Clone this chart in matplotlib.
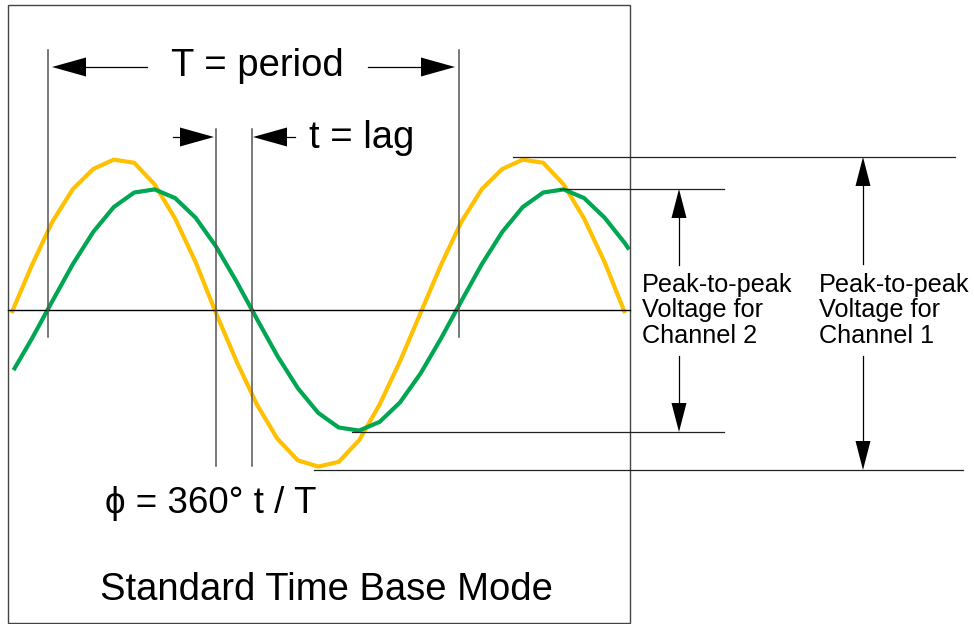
import matplotlib
matplotlib.use("Agg")
import matplotlib.pyplot as plt
from matplotlib.patches import Polygon, Rectangle

plt.rcParams['font.family'] = ['Liberation Sans', 'DejaVu Sans']

# ---- data ----
# time in ms, voltage in V
ch1_time = list(range(0, 31))
ch1_volts = [-0.10, 1.45, 2.85, 3.90, 4.55, 4.85, 4.75, 4.05, 2.95, 1.55,
             -0.10, -1.65, -3.05, -4.15, -4.85, -5.05, -4.90, -4.20, -3.05, -1.65,
             -0.10, 1.45, 2.85, 3.90, 4.55, 4.85, 4.75, 4.05, 2.95, 1.55, -0.10]
ch2_time = [0.1] + list(range(1, 31)) + [30.2]
ch2_volts = [-1.94, -0.92, 0.29, 1.48, 2.52, 3.32, 3.79, 3.89, 3.61, 2.98,
             2.05, 0.92, -0.29, -1.48, -2.52, -3.32, -3.79, -3.89, -3.61, -2.98,
             -2.05, -0.92, 0.29, 1.48, 2.52, 3.32, 3.79, 3.89, 3.61, 2.98,
             2.15, 1.95]

labels = {
    'period': 'T = period',
    'lag': 't = lag',
    'phase': '\u03d5 = 360\u00b0 t / T',
    'mode': 'Standard Time Base Mode',
    'ch2': 'Peak-to-peak\nVoltage for\nChannel 2',
    'ch1': 'Peak-to-peak\nVoltage for\nChannel 1',
}

YELLOW = '#FFC000'
GREEN = '#00A651'
LINE = '#222222'
GRAY = '#555555'

W, H = 974, 624
fig = plt.figure(figsize=(W / 100, H / 100), dpi=100)

# Annotation layer in pixel-like coordinates
ax = fig.add_axes([0, 0, 1, 1])
ax.set_xlim(0, W)
ax.set_ylim(H, 0)
ax.axis('off')

# Wave layer in time / voltage units
px_per_ms = 20.45
t0_px = 11.5
px_per_volt = 31.0
zero_px = 310
wax = fig.add_axes([0, 0, 1, 1])
wax.set_xlim((0 - t0_px) / px_per_ms, (W - t0_px) / px_per_ms)
wax.set_ylim((zero_px - H) / px_per_volt, zero_px / px_per_volt)
wax.axis('off')
wax.patch.set_alpha(0)

wax.plot(ch1_time, ch1_volts, color=YELLOW, lw=3.0, solid_joinstyle='round',
         solid_capstyle='butt', zorder=2)
wax.plot(ch2_time, ch2_volts, color=GREEN, lw=3.0, solid_joinstyle='round',
         solid_capstyle='butt', zorder=3)

# bring annotation layer on top
ax.set_zorder(wax.get_zorder() + 1)
ax.patch.set_alpha(0)

lw = 0.9

# frame
ax.add_patch(Rectangle((8, 5), 622, 618, fill=False, ec='#444444', lw=1.0))

# zero axis
ax.plot([8, 630], [310, 310], color='black', lw=1.0)

# vertical markers
for xv in (48, 459):
    ax.plot([xv, xv], [50, 337], color=GRAY, lw=1.1)
for xv in (216, 252):
    ax.plot([xv, xv], [129, 466], color=GRAY, lw=1.1)

# horizontal peak/trough lines
ax.plot([513, 955], [157, 157], color=LINE, lw=lw)
ax.plot([560, 724], [189, 189], color=LINE, lw=lw)
ax.plot([352, 724], [432, 432], color=LINE, lw=lw)
ax.plot([314, 963], [470, 470], color=LINE, lw=lw)


def harrow(x_tail, x_tip, y, L=34, w=9.5):
    d = 1 if x_tip > x_tail else -1
    ax.plot([x_tail, x_tip - d * L * 0.5], [y, y], color='black', lw=lw)
    ax.add_patch(Polygon([(x_tip, y), (x_tip - d * L, y - w), (x_tip - d * L, y + w)],
                         closed=True, fc='black', ec='none'))


def varrow(x, y_tail, y_tip, L=29, w=7.5):
    d = 1 if y_tip > y_tail else -1
    ax.plot([x, x], [y_tail, y_tip - d * L * 0.5], color='black', lw=lw)
    ax.add_patch(Polygon([(x, y_tip), (x - w, y_tip - d * L), (x + w, y_tip - d * L)],
                         closed=True, fc='black', ec='none'))


harrow(147, 52, 67)
harrow(368, 455, 67)
harrow(173, 214, 137, L=34, w=9.5)
harrow(295, 253, 137, L=34, w=9.5)

varrow(679, 265, 189)
varrow(679, 356, 432)
varrow(863, 264, 157)
varrow(863, 356, 470)

# texts
big = 27.5
ax.text(257, 76, labels['period'], fontsize=big, ha='center', va='baseline')
ax.text(309, 148, labels['lag'], fontsize=big, ha='left', va='baseline')
ax.text(105, 513, labels['phase'], fontsize=26.5, ha='left', va='baseline')
ax.text(326, 600, labels['mode'], fontsize=big, ha='center', va='baseline')
small = 18.2
ax.text(642, 343, labels['ch2'], fontsize=small, ha='left', va='baseline',
        linespacing=1.08)
ax.text(819, 343, labels['ch1'], fontsize=small, ha='left', va='baseline',
        linespacing=1.08)

fig.savefig('out.png', dpi=100)
